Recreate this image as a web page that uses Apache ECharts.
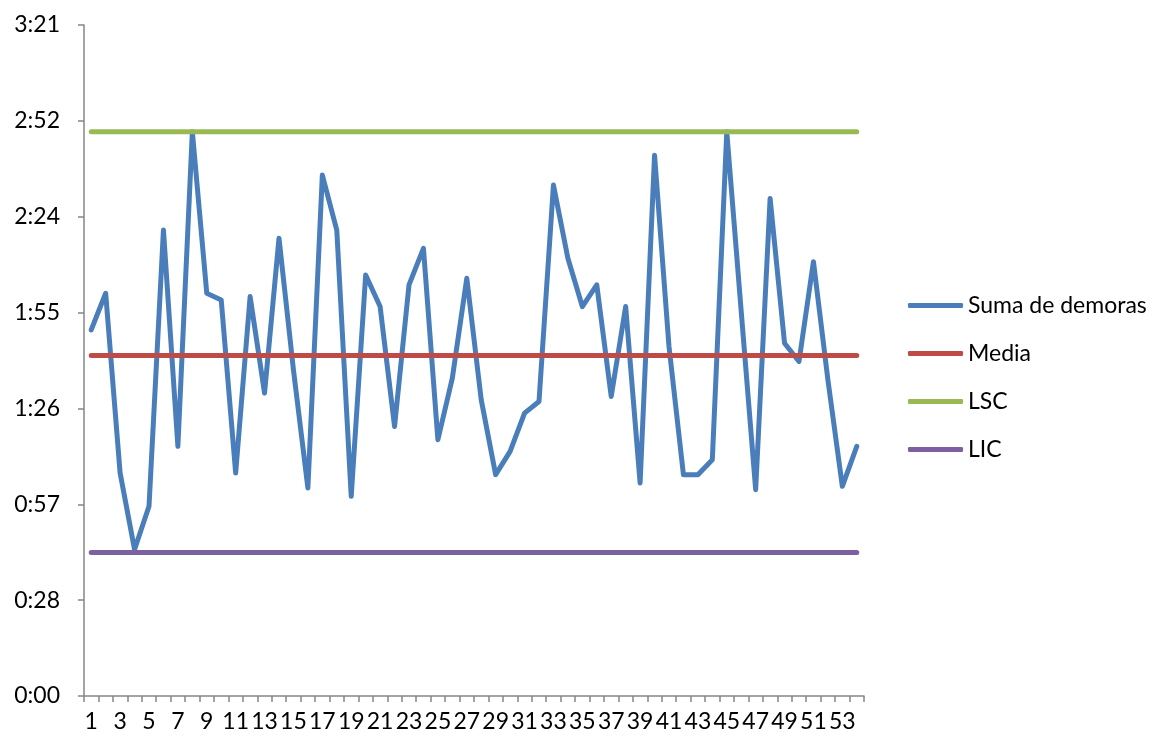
<!DOCTYPE html>
<html>
<head>
<meta charset="utf-8">
<script src="https://cdn.jsdelivr.net/npm/echarts@6/dist/echarts.min.js"></script>
<style>
html,body{margin:0;padding:0;background:#fff;}
#chart{width:1165px;height:740px;}
</style>
</head>
<body>
<div id="chart"></div>
<script>
// Categories (sample number)
const categories = ["1","2","3","4","5","6","7","8","9","10","11","12","13","14","15","16","17","18","19","20","21","22","23","24","25","26","27","28","29","30","31","32","33","34","35","36","37","38","39","40","41","42","43","44","45","46","47","48","49","50","51","52","53","54"];
// "Suma de demoras" in seconds
const sumaDemoras = [110,121,67,44,57,140,75,169.5,121,119,67,120,91,137.5,98,62.5,156.5,140,60,126.5,117,81,123.5,134.5,77,95.5,125.5,89,66.5,73.5,85,88.5,153.5,131.5,117,123.5,90,117,64,162.5,105,66.5,66.5,71,169.5,115.5,62,149.5,106,100.5,130.5,95,63,75];
// Control limits in seconds
const MEDIA = 102.3;
const LSC = 169.5;
const LIC = 43.1;
const mediaLine = categories.map(() => MEDIA);
const lscLine = categories.map(() => LSC);
const licLine = categories.map(() => LIC);
// Y axis: time ticks (seconds), interval 28.8 s
const Y_MIN = 0, Y_MAX = 201.6, Y_INTERVAL = 28.8;

function fmtTime(v){
  const t = Math.floor(v + 1e-6);
  const m = Math.floor(t/60), s = t % 60;
  return m + ':' + (s < 10 ? '0' + s : s);
}

const FONT = 'Lato';
const chart = echarts.init(document.getElementById('chart'));
const lineBase = {type:'line', symbol:'none', showSymbol:false, animation:false};
chart.setOption({
  animation:false,
  backgroundColor:'#ffffff',
  textStyle:{fontFamily:FONT},
  grid:{left:84, right:301, top:25, bottom:44, containLabel:false},
  legend:{
    orient:'vertical', left:908, top:294, padding:0,
    icon:'roundRect',
    itemWidth:55, itemHeight:5, itemGap:25,
    textStyle:{fontFamily:FONT, fontSize:23, color:'#000'},
    data:['Suma de demoras','Media','LSC','LIC']
  },
  xAxis:{
    type:'category', data:categories, boundaryGap:true,
    axisLine:{lineStyle:{color:'#868686', width:1.5}},
    axisTick:{show:true, interval:0, length:6, lineStyle:{color:'#868686', width:1.5}},
    axisLabel:{interval:1, margin:14, fontFamily:FONT, fontSize:23, color:'#000'},
    splitLine:{show:false}
  },
  yAxis:{
    type:'value', min:Y_MIN, max:Y_MAX, interval:Y_INTERVAL,
    axisLine:{show:true, lineStyle:{color:'#868686', width:1.5}},
    axisTick:{show:true, length:6, lineStyle:{color:'#868686', width:1.5}},
    axisLabel:{margin:24, fontFamily:FONT, fontSize:23, color:'#000', formatter:fmtTime},
    splitLine:{show:false}
  },
  series:[
    Object.assign({}, lineBase, {name:'Suma de demoras', data:sumaDemoras, color:'#4A7EBB',
      lineStyle:{color:'#4A7EBB', width:5, cap:'round', join:'round'}}),
    Object.assign({}, lineBase, {name:'Media', data:mediaLine, color:'#BE4B48',
      lineStyle:{color:'#BE4B48', width:5, cap:'round'}}),
    Object.assign({}, lineBase, {name:'LSC', data:lscLine, color:'#98B954',
      lineStyle:{color:'#98B954', width:5, cap:'round'}}),
    Object.assign({}, lineBase, {name:'LIC', data:licLine, color:'#7D60A0',
      lineStyle:{color:'#7D60A0', width:5, cap:'round'}})
  ]
});
</script>
</body>
</html>
